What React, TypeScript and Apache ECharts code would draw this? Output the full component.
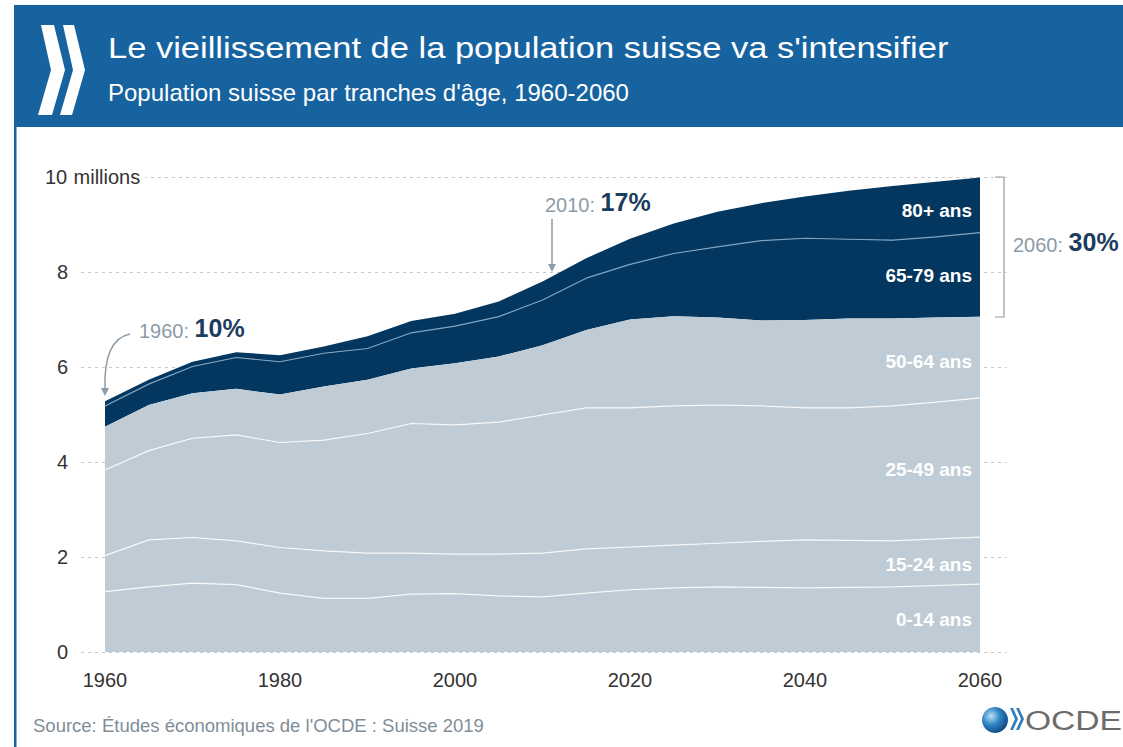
import React, { useEffect, useRef } from "react";
import * as echarts from "echarts";

const YEARS = [1960, 1965, 1970, 1975, 1980, 1985, 1990, 1995, 2000, 2005, 2010, 2015, 2020, 2025, 2030, 2035, 2040, 2045, 2050, 2055, 2060];
const AGE_GROUPS = ["0-14 ans", "15-24 ans", "25-49 ans", "50-64 ans", "65-79 ans", "80+ ans"];
const POP_0_14 = [1.27, 1.37, 1.45, 1.42, 1.24, 1.13, 1.13, 1.22, 1.23, 1.18, 1.16, 1.24, 1.31, 1.35, 1.37, 1.36, 1.35, 1.36, 1.37, 1.40, 1.43];
const POP_15_24 = [0.76, 0.99, 0.96, 0.92, 0.96, 1.00, 0.95, 0.86, 0.83, 0.88, 0.92, 0.93, 0.90, 0.90, 0.92, 0.97, 1.01, 0.99, 0.97, 0.98, 0.99];
const POP_25_49 = [1.80, 1.88, 2.09, 2.23, 2.21, 2.33, 2.52, 2.73, 2.72, 2.78, 2.91, 2.97, 2.93, 2.93, 2.91, 2.85, 2.78, 2.79, 2.84, 2.88, 2.93];
const POP_50_64 = [0.91, 0.96, 0.95, 0.97, 1.01, 1.13, 1.13, 1.16, 1.30, 1.38, 1.47, 1.64, 1.86, 1.89, 1.84, 1.80, 1.85, 1.88, 1.84, 1.78, 1.71];
const POP_65_79 = [0.44, 0.44, 0.56, 0.66, 0.69, 0.70, 0.66, 0.75, 0.78, 0.84, 0.95, 1.09, 1.16, 1.32, 1.49, 1.68, 1.72, 1.67, 1.65, 1.70, 1.77];
const POP_80P = [0.10, 0.09, 0.10, 0.11, 0.14, 0.14, 0.26, 0.25, 0.26, 0.32, 0.39, 0.42, 0.54, 0.63, 0.74, 0.79, 0.88, 1.02, 1.14, 1.16, 1.16];

const FONT = "'Liberation Sans', Arial, Helvetica, sans-serif";
const LIGHT = "#bfccd5";
const DARK = "#03375f";
const HEADER = "#1763a0";
const GREY = "#8c9ba6";
const NAVY = "#1c3d5e";

export default function App() {
  const ref = useRef<HTMLDivElement>(null);

  useEffect(() => {
    if (!ref.current) return;
    const chart = echarts.init(ref.current, null, { renderer: "svg" });
    const values = [POP_0_14, POP_15_24, POP_25_49, POP_50_64, POP_65_79, POP_80P];
    const lineColors = ["rgba(255,255,255,0.85)", "rgba(255,255,255,0.85)", "rgba(255,255,255,0.85)", null, "#7fa2bf", null];
    const areaColors = [LIGHT, LIGHT, LIGHT, LIGHT, DARK, DARK];

    const series = AGE_GROUPS.map((name, i) => ({
      name,
      type: "line",
      stack: "pop",
      symbol: "none",
      xAxisIndex: 1,
      yAxisIndex: 1,
      z: 10 - i,
      data: values[i],
      lineStyle: lineColors[i] ? { width: 1.2, color: lineColors[i] } : { width: 0, opacity: 0 },
      areaStyle: { color: areaColors[i], opacity: 1 },
      emphasis: { disabled: true },
      silent: true,
    }));

    const labelY = [619, 564, 469, 361, 275, 210];
    const bandLabels = AGE_GROUPS.map((t, i) => ({
      type: "text",
      x: 972,
      y: labelY[i],
      z: 100,
      style: {
        text: t,
        fill: "#ffffff",
        font: `bold 19px ${FONT}`,
        align: "right",
        verticalAlign: "middle",
      },
    }));

    const annot = (x: number, y: number, year: string, pct: string) => ({
      type: "text",
      x,
      y,
      z: 100,
      style: {
        text: `{g|${year}: }{b|${pct}}`,
        verticalAlign: "middle",
        align: "left",
        rich: {
          g: { fontFamily: FONT, fontSize: 20, fill: GREY, color: GREY, verticalAlign: "bottom" },
          b: { fontFamily: FONT, fontSize: 25, fontWeight: "bold", fill: NAVY, color: NAVY, verticalAlign: "bottom" },
        },
      },
    });

    chart.setOption({
      animation: false,
      grid: [
        { left: 81, right: 116, top: 177, bottom: 95, containLabel: false },
        { left: 105, right: 143, top: 177, bottom: 95, containLabel: false },
      ],
      xAxis: [
        { type: "value", gridIndex: 0, min: 0, max: 1, show: false },
        {
          type: "category",
          gridIndex: 1,
          data: YEARS.map(String),
          boundaryGap: false,
          axisLine: { show: false },
          axisTick: { show: false },
          splitLine: { show: false },
          axisLabel: {
            interval: 3,
            fontFamily: FONT,
            fontSize: 20,
            color: "#333",
            margin: 18,
          },
        },
      ],
      yAxis: [
        {
          type: "value",
          gridIndex: 0,
          min: 0,
          max: 10,
          interval: 2,
          axisLine: { show: false },
          axisTick: { show: false },
          splitLine: { show: true, lineStyle: { color: "#c9c9c9", type: [3, 4], width: 1 } },
          axisLabel: {
            align: "left",
            margin: 37,
            formatter: (v: number) => (v === 10 ? "{n|10}{m| millions}" : `{n|${v}}`),
            rich: {
              n: { width: 24, align: "right", fontFamily: FONT, fontSize: 20, color: "#333" },
              m: { fontFamily: FONT, fontSize: 20, color: "#333", backgroundColor: "#ffffff", padding: [0, 5, 0, 0] },
            },
          },
        },
        {
          type: "value",
          gridIndex: 1,
          min: 0,
          max: 10,
          interval: 2,
          show: false,
          splitLine: { show: false },
        },
      ],
      series,
      graphic: [
        { type: "rect", shape: { x: 14, y: 5, width: 1109, height: 122 }, style: { fill: HEADER }, z: 50 },
        { type: "rect", shape: { x: 14, y: 127, width: 2.5, height: 620 }, style: { fill: HEADER }, z: 50 },
        {
          type: "polygon",
          z: 51,
          shape: { points: [[41, 25], [54, 25], [65, 70], [52, 115], [38, 115], [51, 70]] },
          style: { fill: "#ffffff" },
        },
        {
          type: "polygon",
          z: 51,
          shape: { points: [[63, 25], [74, 25], [85, 70], [72, 115], [60, 115], [73, 70]] },
          style: { fill: "#ffffff" },
        },
        {
          type: "text",
          x: 108,
          y: 48,
          z: 51,
          scaleX: 1.15,
          style: {
            text: "Le vieillissement de la population suisse va s'intensifier",
            fill: "#ffffff",
            font: `30px ${FONT}`,
            verticalAlign: "middle",
          },
        },
        {
          type: "text",
          x: 108,
          y: 92,
          z: 51,
          style: {
            text: "Population suisse par tranches d'âge, 1960-2060",
            fill: "#ffffff",
            font: `24px ${FONT}`,
            verticalAlign: "middle",
          },
        },
        ...bandLabels,
        annot(139, 328, "1960", "10%"),
        annot(545, 202, "2010", "17%"),
        annot(1013, 242, "2060", "30%"),
        {
          type: "bezierCurve",
          z: 100,
          shape: { x1: 130, y1: 334, cpx1: 110, cpy1: 338, cpx2: 104, cpy2: 362, x2: 105, y2: 390 },
          style: { stroke: GREY, lineWidth: 1.5, fill: "none" },
        },
        { type: "polygon", z: 100, shape: { points: [[101, 388], [109, 388], [105, 396]] }, style: { fill: GREY } },
        { type: "line", z: 100, shape: { x1: 552, y1: 219, x2: 552, y2: 265 }, style: { stroke: GREY, lineWidth: 1.5 } },
        { type: "polygon", z: 100, shape: { points: [[548, 264], [556, 264], [552, 272]] }, style: { fill: GREY } },
        {
          type: "polyline",
          z: 100,
          shape: { points: [[995, 177], [1004, 177], [1004, 317], [995, 317]] },
          style: { stroke: "#9a9a9a", lineWidth: 1.2, fill: "none" },
        },
        {
          type: "text",
          x: 33,
          y: 725,
          z: 100,
          style: {
            text: "Source: Études économiques de l'OCDE : Suisse 2019",
            fill: "#7f8d98",
            font: `18.5px ${FONT}`,
            verticalAlign: "middle",
          },
        },
        {
          type: "circle",
          z: 100,
          shape: { cx: 995, cy: 720, r: 13 },
          style: {
            fill: new echarts.graphic.RadialGradient(0.35, 0.35, 0.75, [
              { offset: 0, color: "#bfe0f5" },
              { offset: 0.45, color: "#2f86c6" },
              { offset: 1, color: "#0b3f7a" },
            ]),
          },
        },
        {
          type: "polygon",
          z: 100,
          shape: { points: [[1010, 708], [1013, 708], [1018, 719], [1013, 730], [1010, 730], [1015, 719]] },
          style: { fill: "#2f7fc0" },
        },
        {
          type: "polygon",
          z: 100,
          shape: { points: [[1016, 708], [1019, 708], [1024, 719], [1019, 730], [1016, 730], [1021, 719]] },
          style: { fill: "#2f7fc0" },
        },
        {
          type: "text",
          x: 1025,
          y: 720,
          z: 100,
          scaleX: 1.2,
          style: {
            text: "OCDE",
            fill: "#6b6b6b",
            font: `28px ${FONT}`,
            verticalAlign: "middle",
          },
        },
      ],
    });

    return () => chart.dispose();
  }, []);

  return (
    <div
      ref={ref}
      style={{ position: "fixed", left: 0, top: 0, width: 1123, height: 747, background: "#ffffff" }}
    />
  );
}
